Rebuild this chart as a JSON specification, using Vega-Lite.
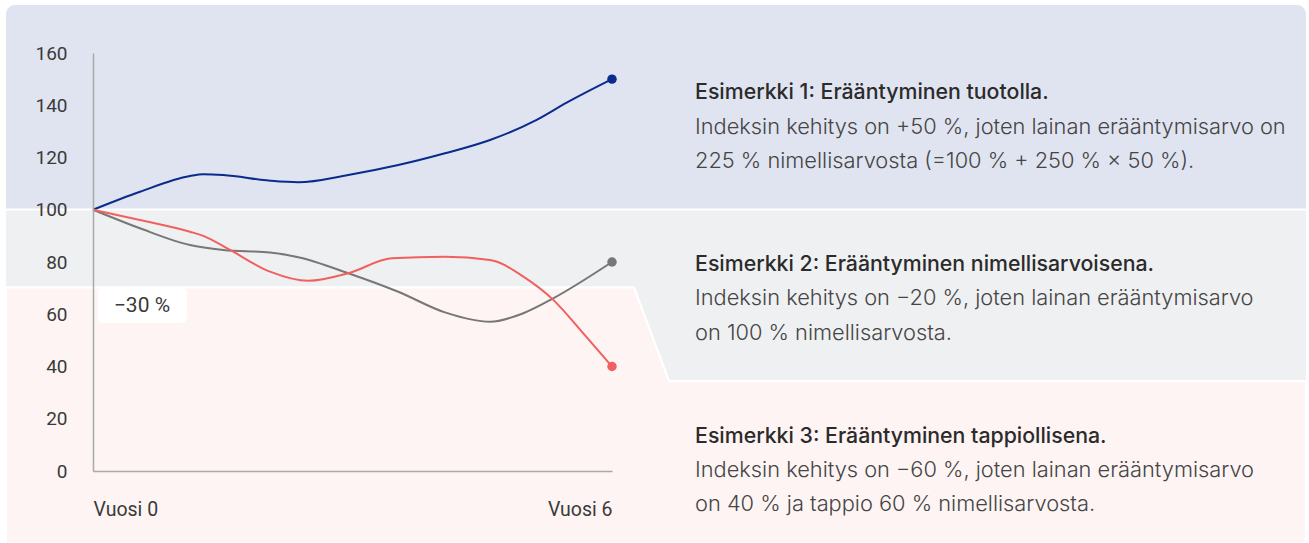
{
  "$schema": "https://vega.github.io/schema/vega-lite/v6.json",
  "width": 519,
  "height": 418,
  "autosize": {"type": "none"},
  "padding": {"left": 93, "top": 53, "right": 697, "bottom": 72},
  "background": "white",
  "config": {
    "view": {"stroke": null},
    "font": "Roboto",
    "text": {"font": "Roboto"}
  },
  "datasets": {
    "blueBand": [{"x": -1.0058, "x2": 14.023, "y": 100.48, "y2": 178.4}],
    "greyBand": [{"x": -1.0058, "x2": 14.023, "y": 30, "y2": 99.71}],
    "pinkBand": [
      {"x": -1.0058, "y": 70.3, "y2": -27.6},
      {"x": 6.254, "y": 70.3, "y2": -27.6},
      {"x": 6.659, "y": 34.4, "y2": -27.6},
      {"x": 14.023, "y": 34.4, "y2": -27.6}
    ],
    "box": [{"x": 0.054, "x2": 1.083, "y": 56.65, "y2": 70.05}],
    "boxLabel": [{"x": 0.566, "y": 63.2, "label": "−30 %"}],
    "series": [
      {"series": "Esimerkki 1", "x": 0, "y": 100},
      {"series": "Esimerkki 1", "x": 0.543, "y": 106.9},
      {"series": "Esimerkki 1", "x": 1.121, "y": 112.9},
      {"series": "Esimerkki 1", "x": 1.275, "y": 113.6},
      {"series": "Esimerkki 1", "x": 1.506, "y": 113.3},
      {"series": "Esimerkki 1", "x": 2.046, "y": 111.1},
      {"series": "Esimerkki 1", "x": 2.373, "y": 110.5},
      {"series": "Esimerkki 1", "x": 2.951, "y": 113.3},
      {"series": "Esimerkki 1", "x": 3.529, "y": 117.1},
      {"series": "Esimerkki 1", "x": 4.069, "y": 121.6},
      {"series": "Esimerkki 1", "x": 4.59, "y": 126.7},
      {"series": "Esimerkki 1", "x": 5.129, "y": 134.4},
      {"series": "Esimerkki 1", "x": 5.476, "y": 141.0},
      {"series": "Esimerkki 1", "x": 6, "y": 150},
      {"series": "Esimerkki 2", "x": 0, "y": 100},
      {"series": "Esimerkki 2", "x": 0.543, "y": 92.9},
      {"series": "Esimerkki 2", "x": 1.121, "y": 86.5},
      {"series": "Esimerkki 2", "x": 1.506, "y": 84.6},
      {"series": "Esimerkki 2", "x": 2.046, "y": 83.6},
      {"series": "Esimerkki 2", "x": 2.373, "y": 81.8},
      {"series": "Esimerkki 2", "x": 2.951, "y": 75.7},
      {"series": "Esimerkki 2", "x": 3.529, "y": 68.6},
      {"series": "Esimerkki 2", "x": 4.069, "y": 60.7},
      {"series": "Esimerkki 2", "x": 4.59, "y": 57.1},
      {"series": "Esimerkki 2", "x": 4.975, "y": 60.4},
      {"series": "Esimerkki 2", "x": 5.321, "y": 66.1},
      {"series": "Esimerkki 2", "x": 6, "y": 80},
      {"series": "Esimerkki 3", "x": 0, "y": 100},
      {"series": "Esimerkki 3", "x": 0.543, "y": 96.1},
      {"series": "Esimerkki 3", "x": 1.121, "y": 91.6},
      {"series": "Esimerkki 3", "x": 1.275, "y": 90.0},
      {"series": "Esimerkki 3", "x": 1.584, "y": 84.6},
      {"series": "Esimerkki 3", "x": 2.046, "y": 76.3},
      {"series": "Esimerkki 3", "x": 2.489, "y": 72.8},
      {"series": "Esimerkki 3", "x": 2.951, "y": 75.7},
      {"series": "Esimerkki 3", "x": 3.453, "y": 81.4},
      {"series": "Esimerkki 3", "x": 4.069, "y": 82.0},
      {"series": "Esimerkki 3", "x": 4.59, "y": 80.8},
      {"series": "Esimerkki 3", "x": 4.975, "y": 74.4},
      {"series": "Esimerkki 3", "x": 5.321, "y": 65.5},
      {"series": "Esimerkki 3", "x": 5.668, "y": 52.7},
      {"series": "Esimerkki 3", "x": 6, "y": 40}
    ],
    "notes": [
      {"x": 6.96, "y": 142.28, "kind": "title", "text": "Esimerkki 1: Erääntyminen tuotolla."},
      {"x": 6.96, "y": 129.0, "kind": "body", "text": "Indeksin kehitys on +50 %, joten lainan erääntymisarvo on"},
      {"x": 6.96, "y": 115.79, "kind": "body", "text": "225 % nimellisarvosta (=100 % + 250 % × 50 %)."},
      {"x": 6.96, "y": 76.67, "kind": "title", "text": "Esimerkki 2: Erääntyminen nimellisarvoisena."},
      {"x": 6.96, "y": 63.35, "kind": "body", "text": "Indeksin kehitys on −20 %, joten lainan erääntymisarvo"},
      {"x": 6.96, "y": 50.14, "kind": "body", "text": "on 100 % nimellisarvosta."},
      {"x": 6.96, "y": 10.6, "kind": "title", "text": "Esimerkki 3: Erääntyminen tappiollisena."},
      {"x": 6.96, "y": -2.3, "kind": "body", "text": "Indeksin kehitys on −60 %, joten lainan erääntymisarvo"},
      {"x": 6.96, "y": -15.31, "kind": "body", "text": "on 40 % ja tappio 60 % nimellisarvosta."}
    ]
  },
  "encoding": {
    "x": {
      "field": "x", "type": "quantitative",
      "scale": {"domain": [0, 6], "nice": false, "zero": false},
      "axis": {
        "title": null, "values": [0, 6], "grid": false, "ticks": false, "tickSize": 0,
        "domainColor": "#a9a9a9", "domainWidth": 1.5,
        "labelFlush": true, "labelExpr": "'Vuosi ' + datum.value",
        "labelFont": "Roboto", "labelFontSize": 19.5, "labelColor": "#3a3a3a",
        "labelBaseline": "alphabetic", "labelPadding": 44, "zindex": 2
      }
    },
    "y": {
      "field": "y", "type": "quantitative",
      "scale": {"domain": [0, 160], "nice": false, "zero": false},
      "axis": {
        "title": null, "values": [0, 20, 40, 60, 80, 100, 120, 140, 160], "grid": false,
        "ticks": false, "tickSize": 0,
        "domainColor": "#a9a9a9", "domainWidth": 1.5,
        "labelFont": "Roboto", "labelFontSize": 19, "labelColor": "#3a3a3a",
        "labelPadding": 26, "zindex": 2
      }
    }
  },
  "layer": [
    {
      "data": {"name": "greyBand"},
      "mark": {"type": "rect", "color": "#eff0f2"},
      "encoding": {"x2": {"field": "x2"}, "y2": {"field": "y2"}}
    },
    {
      "data": {"name": "blueBand"},
      "mark": {"type": "rect", "color": "#e0e4f0", "cornerRadiusTopLeft": 9, "cornerRadiusTopRight": 9},
      "encoding": {"x2": {"field": "x2"}, "y2": {"field": "y2"}}
    },
    {
      "data": {"name": "pinkBand"},
      "mark": {"type": "area", "fill": "#fdf4f3", "stroke": "white", "strokeWidth": 2.2, "interpolate": "linear"},
      "encoding": {"y2": {"field": "y2"}}
    },
    {
      "data": {"name": "box"},
      "mark": {"type": "rect", "color": "white", "cornerRadius": 5},
      "encoding": {"x2": {"field": "x2"}, "y2": {"field": "y2"}}
    },
    {
      "data": {"name": "boxLabel"},
      "mark": {"type": "text", "fontSize": 21, "color": "#3a3a3a", "align": "center", "baseline": "middle"},
      "encoding": {"text": {"field": "label"}}
    },
    {
      "data": {"name": "series"},
      "mark": {"type": "line", "interpolate": "monotone", "strokeWidth": 2},
      "encoding": {
        "color": {"field": "series", "type": "nominal", "legend": null,
          "scale": {"domain": ["Esimerkki 1", "Esimerkki 2", "Esimerkki 3"], "range": ["#0a2b8c", "#777777", "#f0605e"]}},
        "detail": {"field": "series"}
      }
    },
    {
      "data": {"name": "series"},
      "transform": [{"filter": "datum.x == 6"}],
      "mark": {"type": "point", "filled": true, "opacity": 1, "size": 90},
      "encoding": {
        "color": {"field": "series", "type": "nominal", "legend": null}
      }
    },
    {
      "data": {"name": "notes"},
      "transform": [{"filter": "datum.kind == 'title'"}],
      "mark": {"type": "text", "align": "left", "baseline": "alphabetic", "font": "Inter", "fontSize": 21.3, "fontWeight": 500, "color": "#2b2b2b"},
      "encoding": {"text": {"field": "text"}}
    },
    {
      "data": {"name": "notes"},
      "transform": [{"filter": "datum.kind == 'body'"}],
      "mark": {"type": "text", "align": "left", "baseline": "alphabetic", "font": "Inter", "fontSize": 21.8, "fontWeight": 300, "color": "#454545"},
      "encoding": {"text": {"field": "text"}}
    }
  ]
}
